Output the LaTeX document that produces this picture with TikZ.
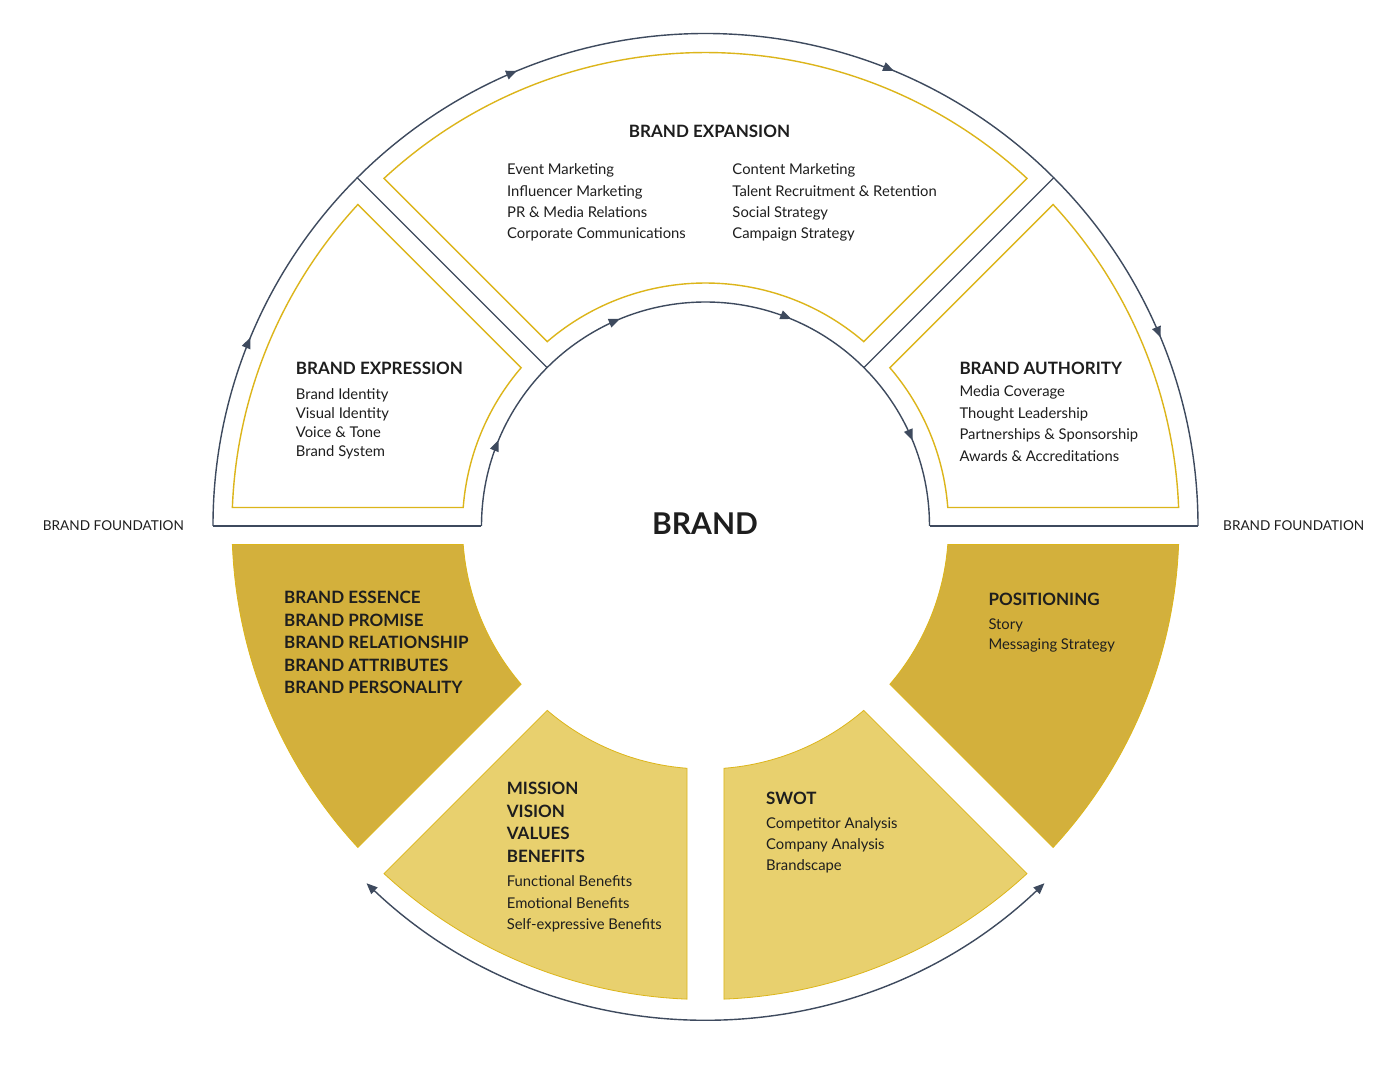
\documentclass[tikz,border=0pt]{standalone}
\usepackage{fontspec}
\setmainfont{Lato}
\usetikzlibrary{arrows.meta,decorations.markings}
\definecolor{darkline}{HTML}{3E4A5E}
\definecolor{goldline}{HTML}{DCB51A}
\definecolor{darkfill}{HTML}{D3B03C}
\definecolor{lightfill}{HTML}{E8D06E}
\definecolor{ink}{HTML}{1E1E1E}
\def\secd{18.5}\def\secRo{473.5}\def\secRi{243}
\newcommand\annsec[3]{%
  \pgfmathsetmacro\secaO{#2+asin(\secd/\secRo)}%
  \pgfmathsetmacro\secbO{#3-asin(\secd/\secRo)}%
  \pgfmathsetmacro\secaI{#2+asin(\secd/\secRi)}%
  \pgfmathsetmacro\secbI{#3-asin(\secd/\secRi)}%
  \path[#1] (\secaO:\secRo pt) arc[start angle=\secaO, end angle=\secbO, radius=\secRo pt]
    -- (\secbI:\secRi pt) arc[start angle=\secbI, end angle=\secaI, radius=\secRi pt] -- cycle;%
}
\tikzset{
  mytri/.tip={Triangle[length=11pt,width=9pt]},
  darkstroke/.style={draw=darkline, line width=1.4pt},
  goldsec/.style={draw=goldline, line width=1.4pt, line join=miter},
  darksec/.style={fill=darkfill, draw=goldline, line width=0.8pt},
  lightsec/.style={fill=lightfill, draw=goldline, line width=0.8pt},
  arrowmarks/.style={postaction={decorate}, decoration={markings,
    mark=at position 0.125 with {\arrow[darkline]{mytri}},
    mark=at position 0.375 with {\arrow[darkline]{mytri}},
    mark=at position 0.625 with {\arrow[darkline]{mytri}},
    mark=at position 0.875 with {\arrow[darkline]{mytri}}}},
  body/.style={font=\fontsize{14.8}{17}\selectfont, text=ink, inner sep=0pt, anchor=base west},
  head/.style={font=\fontsize{17}{20}\selectfont\bfseries, text=ink, inner sep=0pt, anchor=base west},
}
\begin{document}
\begin{tikzpicture}[x=1pt,y=1pt]
\fill[white] (-705.5,-557) rectangle (694.5,526);
\useasboundingbox (-705.5,-557) rectangle (694.5,526);

% bottom filled sectors
\annsec{darksec}{180}{225}
\annsec{lightsec}{225}{270}
\annsec{lightsec}{270}{315}
\annsec{darksec}{315}{360}

% top gold outlines
\annsec{goldsec}{135}{180}
\annsec{goldsec}{45}{135}
\annsec{goldsec}{0}{45}

% dark outline of top half
\draw[darkstroke, arrowmarks] (180:492.5pt) arc[start angle=180, end angle=0, radius=492.5pt];
\draw[darkstroke, arrowmarks] (180:224pt) arc[start angle=180, end angle=0, radius=224pt];
\draw[darkstroke] (180:224pt) -- (180:492.5pt);
\draw[darkstroke] (0:224pt) -- (0:492.5pt);
\draw[darkstroke] (135:224pt) -- (135:492.5pt);
\draw[darkstroke] (45:224pt) -- (45:492.5pt);

% bottom arc
\draw[draw=darkline, line width=1.4pt, {mytri}-{mytri}] (226.5:492.5pt) arc[start angle=226.5, end angle=313.5, radius=492.5pt];

% texts
\node[head, anchor=base] (hexp) at (4,388) {BRAND EXPANSION};
\foreach \t [count=\i] in {Event Marketing,Influencer Marketing,PR \& Media Relations,Corporate Communications}
  \node[body] (expl\i) at (-198.5,{351-21.3*(\i-1)}) {\t};
\foreach \t [count=\i] in {Content Marketing,Talent Recruitment \& Retention,Social Strategy,Campaign Strategy}
  \node[body] (expr\i) at (26.8,{351-21.3*(\i-1)}) {\t};

\node[head] (hexpr) at (-409.8,151.7) {BRAND EXPRESSION};
\foreach \t [count=\i] in {Brand Identity,Visual Identity,Voice \& Tone,Brand System}
  \node[body] (exprs\i) at (-409.8,{126-18.9*(\i-1)}) {\t};

\node[head] (hauth) at (253.8,151) {BRAND AUTHORITY};
\foreach \t [count=\i] in {Media Coverage,Thought Leadership,Partnerships \& Sponsorship,Awards \& Accreditations}
  \node[body] (auth\i) at (253.8,{129.3-21.6*(\i-1)}) {\t};

\node[font=\fontsize{30}{35}\selectfont\bfseries, text=ink, inner sep=0pt, anchor=base] (brand) at (-0.5,-8.3) {BRAND};
\node[font=\fontsize{13.6}{16}\selectfont, text=ink, inner sep=0pt, anchor=base west] (foundl) at (-662.8,-4.7) {BRAND FOUNDATION};
\node[font=\fontsize{13.6}{16}\selectfont, text=ink, inner sep=0pt, anchor=base west] (foundr) at (517.5,-4.7) {BRAND FOUNDATION};

\foreach \t [count=\i] in {BRAND ESSENCE,BRAND PROMISE,BRAND RELATIONSHIP,BRAND ATTRIBUTES,BRAND PERSONALITY}
  \node[head] (ess\i) at (-421.5,{-78-22.4*(\i-1)}) {\t};

\foreach \t [count=\i] in {MISSION,VISION,VALUES,BENEFITS}
  \node[head] (mis\i) at (-198.8,{-269-22.35*(\i-1)}) {\t};
\foreach \t [count=\i] in {Functional Benefits,Emotional Benefits,Self-expressive Benefits}
  \node[body] (ben\i) at (-198.8,{-360.7-21.3*(\i-1)}) {\t};

\node[head] (swot) at (60.5,-279) {SWOT};
\foreach \t [count=\i] in {Competitor Analysis,Company Analysis,Brandscape}
  \node[body] (sw\i) at (60.5,{-302.3-21.2*(\i-1)}) {\t};

\node[head] (pos) at (282.8,-80) {POSITIONING};
\foreach \t [count=\i] in {Story,Messaging Strategy}
  \node[body] (ps\i) at (282.8,{-103.3-20.7*(\i-1)}) {\t};
\end{tikzpicture}
\end{document}
